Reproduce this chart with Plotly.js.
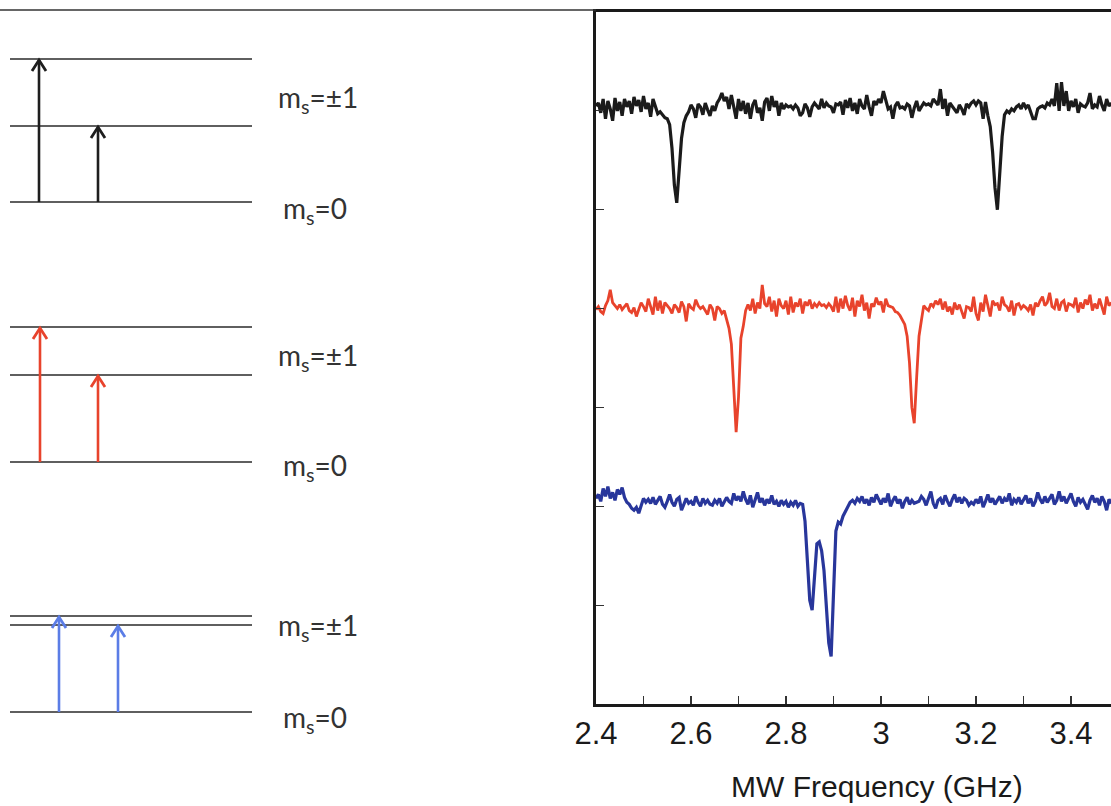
<!DOCTYPE html>
<html>
<head>
<meta charset="utf-8">
<script src="https://cdn.plot.ly/plotly-3.0.1.min.js"></script>
<style>html,body{margin:0;padding:0;background:#fff;}#chart{width:1111px;height:806px;}</style>
</head>
<body>
<div id="chart"></div>
<script>
// ---- Spectra: MW frequency sweep, start 2.40 GHz, step 0.005 GHz ----
const freqStart = 2.40;
const freqStep = 0.005;

// Black trace (large splitting)
const blackSignal = [
  6.05,6.08,5.98,6.12,5.92,6.10,6.02,5.90,6.13,6.00,
  6.09,5.95,6.12,6.04,6.10,5.97,6.14,6.05,6.11,5.99,
  6.15,6.02,6.08,5.94,6.12,6.03,5.97,5.99,5.96,5.93,
  5.92,5.86,5.62,5.25,5.07,5.35,5.72,5.88,5.95,5.99,
  6.06,6.02,5.93,6.07,6.04,5.96,6.08,6.01,5.95,6.05,
  6.00,6.08,6.12,6.18,6.10,6.14,6.02,6.16,6.05,5.92,
  6.12,6.00,6.10,5.97,6.08,5.92,6.06,6.11,5.98,6.03,
  5.90,6.09,6.13,6.00,6.15,6.04,6.10,5.95,6.08,6.02,
  6.06,6.04,6.05,6.02,6.06,6.03,5.95,5.98,6.07,6.03,
  5.94,6.04,6.08,6.05,6.02,6.12,6.03,6.08,6.05,6.04,
  5.98,6.07,6.06,6.09,5.96,6.11,6.03,6.13,6.00,6.08,
  5.97,6.12,6.05,6.02,6.16,6.04,5.95,6.10,6.06,6.12,
  6.08,6.20,6.11,6.02,6.04,5.92,6.05,6.09,6.03,6.04,
  6.02,6.07,6.05,5.93,6.03,6.10,6.00,6.04,6.08,6.06,
  6.07,6.05,6.12,6.09,6.06,6.22,6.02,6.12,5.95,6.08,
  6.05,6.02,5.98,6.06,6.02,5.96,6.07,6.04,6.08,6.10,
  6.06,6.10,6.08,5.92,6.09,5.95,5.84,5.58,5.22,5.00,
  5.42,5.74,5.96,6.00,5.98,6.02,6.00,6.04,6.06,6.02,
  6.08,6.03,6.06,5.98,5.92,5.92,6.02,6.04,6.05,6.03,
  6.08,6.06,6.12,6.05,6.28,6.00,6.29,6.05,6.20,6.00,
  6.10,6.04,6.12,5.98,6.07,6.05,6.04,6.08,6.18,6.02,
  6.06,6.04,6.15,6.06,6.00,6.12,6.05,6.08
];

// Red trace (medium splitting)
const redSignal = [
  3.99,4.02,3.97,3.95,4.03,4.08,4.19,4.06,4.03,4.00,
  4.04,3.99,4.02,4.05,3.98,3.96,4.01,3.92,3.99,4.06,
  4.02,3.97,4.10,4.01,3.94,4.12,3.98,4.08,3.95,4.06,
  4.03,4.00,3.95,4.04,4.01,3.96,4.07,4.02,3.87,4.05,
  4.01,3.99,4.09,4.03,4.00,4.02,3.98,3.94,4.04,4.00,
  3.88,4.02,4.00,3.95,3.98,3.90,3.80,3.64,3.25,2.75,
  3.10,3.70,3.82,3.98,4.04,3.98,4.10,3.95,4.06,4.00,
  4.24,4.05,4.02,4.12,3.97,4.08,3.92,4.10,4.03,4.00,
  4.08,3.94,4.12,3.96,4.06,4.02,4.10,3.95,4.07,4.03,
  4.09,4.00,4.05,4.02,4.06,4.03,4.04,4.01,4.05,4.02,
  3.97,4.12,3.96,4.10,4.00,4.13,4.03,3.98,4.11,3.92,
  4.08,4.02,4.14,3.98,4.06,3.90,4.05,4.02,4.11,4.04,
  4.07,3.96,4.10,4.03,4.02,4.01,3.97,3.96,3.93,3.88,
  3.84,3.72,3.45,3.00,2.84,3.30,3.72,3.88,4.03,4.00,
  3.98,4.05,4.02,4.08,4.04,4.10,3.99,4.07,3.97,4.02,
  3.94,4.06,3.99,4.04,3.96,3.90,4.02,4.01,3.97,4.12,
  3.95,3.88,4.06,3.97,4.14,4.02,3.92,4.08,4.04,4.05,
  3.98,4.12,4.04,4.02,3.97,4.08,3.93,4.04,4.05,4.00,
  4.03,4.01,3.98,4.04,3.93,4.06,4.02,4.08,4.12,4.03,
  4.06,4.16,4.02,4.00,4.10,3.98,4.06,4.08,3.97,4.05,
  4.04,4.02,4.11,3.96,4.06,4.00,4.09,4.04,4.14,3.98,
  4.05,4.00,4.10,4.02,3.94,4.12,4.03,4.06
];

// Blue trace (small splitting)
const blueSignal = [
  2.08,2.12,2.05,2.18,2.10,2.20,2.08,2.14,2.06,2.17,
  2.12,2.19,2.09,2.04,2.02,1.98,1.96,1.99,1.93,2.00,
  2.08,2.04,2.07,2.03,2.09,2.02,2.06,2.10,2.02,1.99,
  2.05,2.12,2.04,2.00,2.07,2.09,1.96,2.02,2.08,2.03,
  2.05,2.01,2.10,2.04,2.00,2.08,2.03,2.06,2.02,2.01,
  2.06,2.03,2.08,2.00,2.04,2.09,2.05,2.03,2.13,2.06,
  2.10,2.05,2.15,2.07,2.02,2.11,1.99,2.06,2.14,2.04,
  2.08,2.01,2.07,2.03,2.11,2.02,2.05,2.00,2.06,2.02,
  2.05,1.99,2.04,2.01,2.06,2.00,2.03,2.02,1.85,1.45,
  1.05,0.95,1.25,1.62,1.64,1.55,1.35,1.00,0.62,0.48,
  1.20,1.75,1.84,1.82,1.90,1.95,2.00,2.04,2.06,2.03,
  2.08,2.05,2.10,2.03,2.07,2.01,2.09,2.04,2.12,2.06,
  2.02,2.08,2.04,2.13,2.00,2.06,2.10,2.03,2.07,1.98,
  2.05,2.09,2.02,2.06,2.03,2.04,2.05,2.10,2.07,2.01,
  2.09,2.15,2.03,1.98,2.06,2.08,2.02,2.11,2.05,2.00,
  2.07,2.12,2.04,2.09,2.03,2.08,2.06,2.01,2.04,2.02,
  2.07,2.03,2.10,1.99,2.05,2.12,2.04,2.08,2.02,2.06,
  2.10,2.03,2.08,2.05,2.13,2.01,2.07,2.04,2.09,2.02,
  2.06,2.11,2.03,2.08,2.00,2.05,2.14,2.07,2.03,2.10,
  2.04,2.08,2.12,2.02,2.06,2.15,2.05,2.10,2.03,2.08,
  2.13,2.05,2.00,2.09,2.04,2.07,2.02,1.97,2.06,2.11,
  2.04,2.08,2.01,2.10,2.05,1.96,2.07,2.03
];

const xTickVals = [2.4, 2.6, 2.8, 3.0, 3.2, 3.4];
const xTickText = ['2.4', '2.6', '2.8', '3', '3.2', '3.4'];
const xTitle = 'MW Frequency (GHz)';

// ---- Energy-level diagrams (diagram units, downward rows) ----
const levelRows = [[59, 126, 202], [327, 375, 462], [616, 625, 712]];
const arrowCols = [[39, 98], [40, 98], [59, 118]];
const arrowTips = [[59, 126], [327, 375], [616, 625]];
const arrowBases = [202, 462, 712];
const labelPlusRows = [99, 357, 627];
const labelZeroRows = [210, 467, 719];
const panelColors = ['#1e1e1e', '#e8432c', '#5b7de6'];
const traceColors = ['#1b1b1b', '#e8432c', '#28369b'];
const labelPlus = 'm<sub>s</sub>=±1';
const labelZero = 'm<sub>s</sub>=0';

const levelX0 = 10, levelX1 = 252;
const headHalfW = 7, headH = 12;

const traces = [];
const sigs = [blackSignal, redSignal, blueSignal];
sigs.forEach((s, k) => {
  traces.push({
    type: 'scatter', mode: 'lines', x0: freqStart, dx: freqStep, y: s,
    line: {color: traceColors[k], width: k === 1 ? 2.8 : 3.2},
    xaxis: 'x', yaxis: 'y', hoverinfo: 'skip', showlegend: false
  });
});

levelRows.forEach((rows, p) => {
  rows.forEach(r => {
    traces.push({
      type: 'scatter', mode: 'lines', x: [levelX0, levelX1], y: [r, r],
      line: {color: '#2a2a2a', width: 1.6}, xaxis: 'x2', yaxis: 'y2',
      hoverinfo: 'skip', showlegend: false
    });
  });
  arrowCols[p].forEach((c, j) => {
    const tip = arrowTips[p][j];
    traces.push({
      type: 'scatter', mode: 'lines', x: [c, c], y: [arrowBases[p], tip + 1],
      line: {color: panelColors[p], width: 2.6}, xaxis: 'x2', yaxis: 'y2',
      hoverinfo: 'skip', showlegend: false
    });
    traces.push({
      type: 'scatter', mode: 'lines',
      x: [c - headHalfW, c, c + headHalfW], y: [tip + headH, tip + 1, tip + headH],
      line: {color: panelColors[p], width: 2.8}, xaxis: 'x2', yaxis: 'y2',
      hoverinfo: 'skip', showlegend: false
    });
  });
});

const annotations = [];
labelPlusRows.forEach(r => annotations.push({
  xref: 'x2', yref: 'y2', x: 276, y: r, text: labelPlus, showarrow: false,
  xanchor: 'left', yanchor: 'middle',
  font: {family: 'Lato, Open Sans, sans-serif', size: 28, color: '#333'}
}));
labelZeroRows.forEach(r => annotations.push({
  xref: 'x2', yref: 'y2', x: 281, y: r, text: labelZero, showarrow: false,
  xanchor: 'left', yanchor: 'middle',
  font: {family: 'Lato, Open Sans, sans-serif', size: 28, color: '#333'}
}));
// x-axis title (the original frame continues past the cropped right edge, so it is centred further right)
annotations.push({
  xref: 'paper', yref: 'paper', x: 877 / 1111, y: 1 - 786 / 806, text: xTitle, showarrow: false,
  xanchor: 'center', yanchor: 'middle', borderpad: 0,
  font: {family: 'Liberation Sans, Arial, sans-serif', size: 30, color: '#1a1a1a'}
});

const splitFrac = 596 / 1111;
const layout = {
  width: 1111, height: 806,
  margin: {l: 0, r: 0, t: 0, b: 0},
  paper_bgcolor: '#fff', plot_bgcolor: 'rgba(0,0,0,0)',
  showlegend: false,
  xaxis: {
    domain: [splitFrac, 1], range: [2.4, 2.4 + 515 / 475],
    showline: true, linecolor: '#1a1a1a', linewidth: 3, mirror: true,
    showgrid: false, zeroline: false,
    ticks: 'inside', ticklen: 8, tickwidth: 1.2, tickcolor: '#333',
    tickvals: xTickVals, ticktext: xTickText,
    minor: {dtick: 0.1, tick0: 2.4, ticks: 'inside', ticklen: 8, tickwidth: 1.2, tickcolor: '#333', showgrid: false},
    tickfont: {family: 'Liberation Sans, Arial, sans-serif', size: 31, color: '#1a1a1a'},
    ticklabelstandoff: 0,
    automargin: false
  },
  yaxis: {
    domain: [1 - 704 / 806, 1 - 12 / 806], range: [0, 7],
    showline: true, linecolor: '#1a1a1a', linewidth: 3,
    showgrid: false, zeroline: false,
    ticks: 'inside', ticklen: 8, tickwidth: 1.2, tickcolor: '#333',
    dtick: 1, tick0: 0, showticklabels: false, automargin: false
  },
  xaxis2: {domain: [0, splitFrac], range: [0, 596], visible: false, anchor: 'y2'},
  yaxis2: {domain: [0, 1], range: [806, 0], visible: false, anchor: 'x2'},
  shapes: [
    {type: 'line', xref: 'paper', yref: 'paper', x0: 0, x1: splitFrac, y0: 1 - 10 / 806, y1: 1 - 10 / 806,
     line: {color: '#333', width: 1.5}}
  ],
  annotations: annotations
};

Plotly.newPlot('chart', traces, layout, {staticPlot: true, displayModeBar: false});
</script>
</body>
</html>
